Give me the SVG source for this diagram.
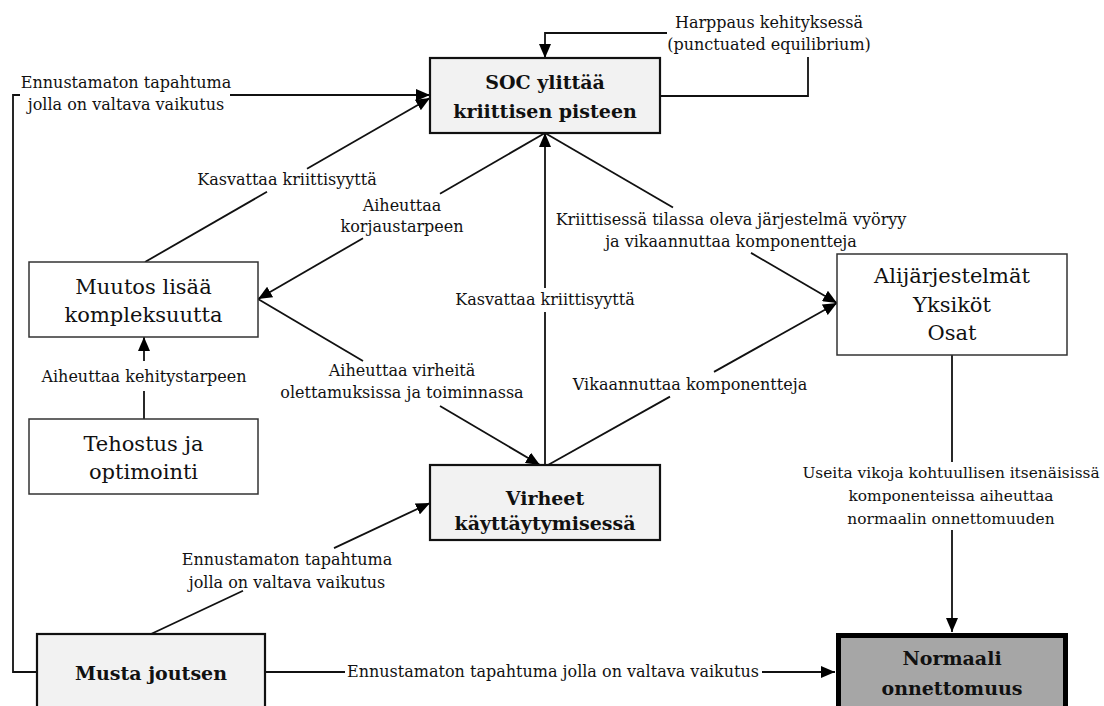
<svg xmlns="http://www.w3.org/2000/svg" width="1104" height="706" viewBox="0 0 1104 706">
  <style>
    .lbl { font-family: "DejaVu Serif", "Liberation Serif", serif; font-size: 16px; fill: #111; text-anchor: middle; }
    .lbl-sm { font-size: 15.4px; }
    .nt  { font-family: "DejaVu Serif", "Liberation Serif", serif; font-size: 21px; fill: #111; text-anchor: middle; }
    .nb  { font-family: "DejaVu Serif", "Liberation Serif", serif; font-size: 19px; font-weight: bold; fill: #111; text-anchor: middle; }
    .box-thin { fill: #fff; stroke: #333; stroke-width: 1.5; }
    .box-key  { fill: #f2f2f2; stroke: #111; stroke-width: 2.2; }
    .box-end  { fill: #a6a6a6; stroke: #000; stroke-width: 5; }
    .wire { fill: none; stroke: #111; stroke-width: 1.8; }
    .arrow { marker-end: url(#head); }
  </style>
  <defs>
    <marker id="head" markerUnits="userSpaceOnUse" markerWidth="14" markerHeight="12" refX="14" refY="6" orient="auto">
      <path d="M0,0 L14,6 L0,12 z" fill="#000"/>
    </marker>
  </defs>

  <rect width="1104" height="706" fill="#fff"/>

  <!-- connectors, split where their labels sit -->
  <g id="connectors">
    <!-- punctuated equilibrium loop -->
    <path class="wire" d="M660,96 H808 V57"/>
    <path class="wire arrow" d="M667,33 H545 V58"/>
    <!-- black swan loop to SOC -->
    <path class="wire" d="M37,672 H13 V95 H20"/>
    <path class="wire arrow" d="M230,95 H430"/>
    <!-- complexity -> SOC -->
    <path class="wire" d="M145,262 L267,191.8"/>
    <path class="wire arrow" d="M307,168.8 L430,98"/>
    <!-- SOC -> complexity -->
    <path class="wire" d="M545,133 L440,193.7"/>
    <path class="wire arrow" d="M363,238.2 L258,299"/>
    <!-- errors -> SOC -->
    <path class="wire" d="M545,465 V312"/>
    <path class="wire arrow" d="M545,288 V133"/>
    <!-- SOC -> subsystems -->
    <path class="wire" d="M545,133 L673,207.5"/>
    <path class="wire arrow" d="M751,252.9 L837,303"/>
    <!-- complexity -> errors -->
    <path class="wire" d="M258,299 L363,361"/>
    <path class="wire arrow" d="M440,406 L540,465"/>
    <!-- errors -> subsystems -->
    <path class="wire" d="M548,465 L670,396.6"/>
    <path class="wire arrow" d="M714,371.9 L837,303"/>
    <!-- subsystems -> normal accident -->
    <path class="wire" d="M952,355 V462"/>
    <path class="wire arrow" d="M952,530 V632"/>
    <!-- optimisation -> complexity -->
    <path class="wire" d="M144,419 V391"/>
    <path class="wire arrow" d="M144,361 V337"/>
    <!-- black swan -> errors -->
    <path class="wire" d="M151,634 L243,590.8"/>
    <path class="wire arrow" d="M334,548.1 L430,503"/>
    <!-- black swan -> normal accident -->
    <path class="wire" d="M265,672 H345"/>
    <path class="wire arrow" d="M762,672 H835"/>
  </g>

  <!-- connector labels -->
  <g id="labels">
    <text class="lbl" x="769" y="28">Harppaus kehityksessä</text>
    <text class="lbl" x="769" y="50">(punctuated equilibrium)</text>
    <text class="lbl" x="126" y="88">Ennustamaton tapahtuma</text>
    <text class="lbl" x="126" y="110">jolla on valtava vaikutus</text>
    <text class="lbl" x="287" y="185">Kasvattaa kriittisyyttä</text>
    <text class="lbl" x="402" y="211">Aiheuttaa</text>
    <text class="lbl" x="402" y="232">korjaustarpeen</text>
    <text class="lbl" x="545" y="305">Kasvattaa kriittisyyttä</text>
    <text class="lbl" x="731" y="225">Kriittisessä tilassa oleva järjestelmä vyöryy</text>
    <text class="lbl" x="731" y="247">ja vikaannuttaa komponentteja</text>
    <text class="lbl" x="402" y="376">Aiheuttaa virheitä</text>
    <text class="lbl" x="402" y="398">olettamuksissa ja toiminnassa</text>
    <text class="lbl" x="690" y="390">Vikaannuttaa komponentteja</text>
    <text class="lbl lbl-sm" x="951" y="478">Useita vikoja kohtuullisen itsenäisissä</text>
    <text class="lbl lbl-sm" x="951" y="501">komponenteissa aiheuttaa</text>
    <text class="lbl lbl-sm" x="951" y="524">normaalin onnettomuuden</text>
    <text class="lbl" x="144" y="382">Aiheuttaa kehitystarpeen</text>
    <text class="lbl" x="287" y="565">Ennustamaton tapahtuma</text>
    <text class="lbl" x="287" y="588">jolla on valtava vaikutus</text>
    <text class="lbl" x="553" y="677">Ennustamaton tapahtuma jolla on valtava vaikutus</text>
  </g>

  <g id="node-soc">
    <rect class="box-key" x="430" y="58" width="230" height="75"/>
    <text class="nb" x="545" y="89">SOC ylittää</text>
    <text class="nb" x="545" y="118">kriittisen pisteen</text>
  </g>

  <g id="node-muutos">
    <rect class="box-thin" x="29" y="262" width="229" height="75"/>
    <text class="nt" x="143.5" y="294">Muutos lisää</text>
    <text class="nt" x="143.5" y="322">kompleksuutta</text>
  </g>

  <g id="node-tehostus">
    <rect class="box-thin" x="29" y="419" width="229" height="75"/>
    <text class="nt" x="143.5" y="451">Tehostus ja</text>
    <text class="nt" x="143.5" y="479">optimointi</text>
  </g>

  <g id="node-virheet">
    <rect class="box-key" x="430" y="465" width="230" height="75"/>
    <text class="nb" x="545" y="505">Virheet</text>
    <text class="nb" x="545" y="530">käyttäytymisessä</text>
  </g>

  <g id="node-alijarjestelmat">
    <rect class="box-thin" x="837" y="254" width="230" height="101"/>
    <text class="nt" x="952" y="283">Alijärjestelmät</text>
    <text class="nt" x="952" y="312">Yksiköt</text>
    <text class="nt" x="952" y="340">Osat</text>
  </g>

  <g id="node-musta">
    <rect class="box-key" x="37" y="634" width="228" height="100"/>
    <text class="nb" x="151" y="680">Musta joutsen</text>
  </g>

  <g id="node-normaali">
    <rect class="box-end" x="838.5" y="635.5" width="227" height="100"/>
    <text class="nb" x="952" y="665">Normaali</text>
    <text class="nb" x="952" y="695">onnettomuus</text>
  </g>
</svg>
